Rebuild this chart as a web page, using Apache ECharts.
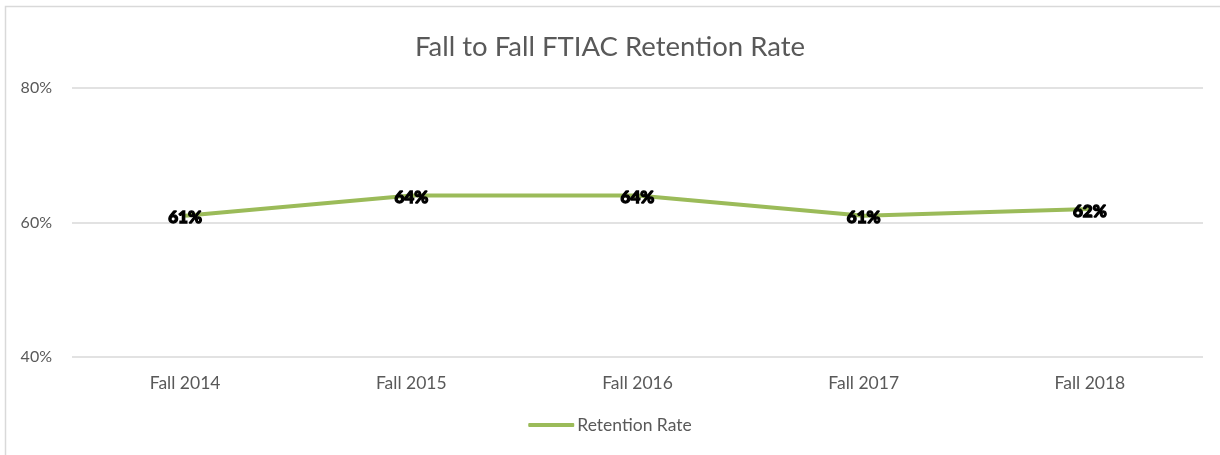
<!DOCTYPE html>
<html><head><meta charset="utf-8">
<script src="https://cdn.jsdelivr.net/npm/echarts@6/dist/echarts.min.js"></script>
<style>html,body{margin:0;padding:0;background:#fff}#c{width:1220px;height:455px}</style>
</head><body><div id="c"></div>
<script>
const categories = ['Fall 2014','Fall 2015','Fall 2016','Fall 2017','Fall 2018'];
const retention = [61, 64, 64, 61, 62];
const yTicks = [40, 60, 80];
const seriesName = 'Retention Rate';
const chartTitle = 'Fall to Fall FTIAC Retention Rate';

const chart = echarts.init(document.getElementById('c'));
const font = 'Lato, "Open Sans", sans-serif';
chart.setOption({
  animation: false,
  graphic: [{type:'rect', shape:{x:5.5,y:6.5,width:1300,height:500}, style:{fill:'none', stroke:'#d9d9d9', lineWidth:1.5}}],
  title: {text: chartTitle, left: 'center', top: 28, textStyle:{fontFamily:font, fontSize:27.5, fontWeight:'normal', color:'#595959'}},
  grid: {left:72, right:17, top:88, bottom:98},
  legend: {bottom: 16, left:'center', itemWidth:46, itemHeight:4, itemGap:6,
    textStyle:{fontFamily:font, fontSize:17.5, color:'#595959', padding:[0,0,0,-2]},
    data:[{name:seriesName, icon:'roundRect'}]},
  xAxis: {type:'category', data: categories, boundaryGap:true,
    axisLine:{show:false}, axisTick:{show:false},
    axisLabel:{fontFamily:font, fontSize:17.5, color:'#595959', margin:17}},
  yAxis: {type:'value', min:yTicks[0], max:yTicks[yTicks.length-1], interval:20,
    axisLine:{show:false}, axisTick:{show:false},
    splitLine:{lineStyle:{color:'#d9d9d9', width:1.5}},
    axisLabel:{fontFamily:font, fontSize:16, color:'#595959', margin:20, formatter: v => v + '%'}},
  series: [{name:seriesName, type:'line', data: retention, symbol:'circle', symbolSize:2, showSymbol:true,
    lineStyle:{color:'#9bbb59', width:4}, itemStyle:{color:'#9bbb59'},
    label:{show:true, position:'inside', formatter: p => p.value + '%',
      fontFamily:font, fontSize:17, fontWeight:900, color:'#000',
      textBorderColor:'#000', textBorderWidth:1.3, offset:[0,2]}}]
});
</script></body></html>
